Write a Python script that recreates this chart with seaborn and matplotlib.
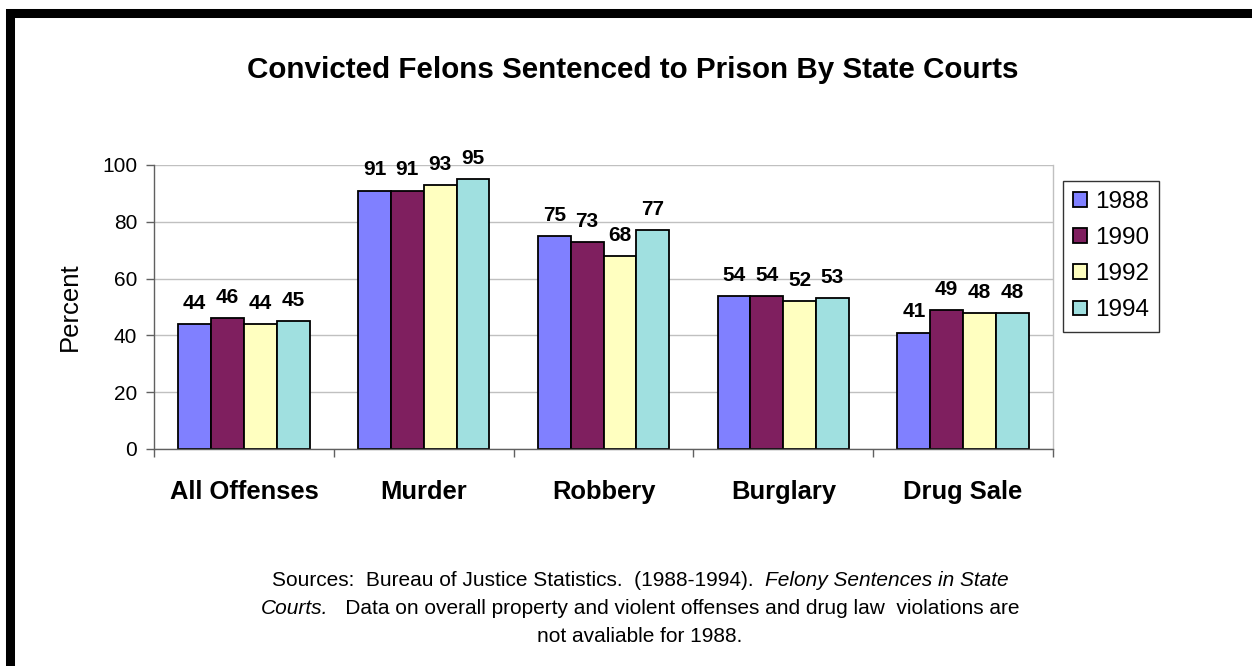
import matplotlib
matplotlib.use("Agg")
import matplotlib.pyplot as plt
import matplotlib.patches as mpatches
from matplotlib.ticker import FixedLocator
import seaborn as sns
import pandas as pd

categories = ["All Offenses", "Murder", "Robbery", "Burglary", "Drug Sale"]
years = ["1988", "1990", "1992", "1994"]
v1988 = [44, 91, 75, 54, 41]
v1990 = [46, 91, 73, 54, 49]
v1992 = [44, 93, 68, 52, 48]
v1994 = [45, 95, 77, 53, 48]
colors = ["#8080FF", "#7F1F5F", "#FFFFC0", "#A0E0E0"]

rows = []
for yr, vals in zip(years, [v1988, v1990, v1992, v1994]):
    for c, v in zip(categories, vals):
        rows.append({"Category": c, "Year": yr, "Percent": v})
df = pd.DataFrame(rows)

sns.set_theme(style="white")
plt.rcParams["font.family"] = ["Liberation Sans", "DejaVu Sans"]
plt.rcParams["text.color"] = "black"
plt.rcParams["axes.labelcolor"] = "black"
plt.rcParams["xtick.color"] = "black"
plt.rcParams["ytick.color"] = "black"

W, H = 1252, 666
fig = plt.figure(figsize=(W / 100, H / 100), dpi=100)
fig.patch.set_facecolor("white")
ax = fig.add_axes([154 / W, 1 - 449 / H, (1053 - 154) / W, (449 - 165) / H])

sns.barplot(data=df, x="Category", y="Percent", hue="Year", order=categories,
            hue_order=years, palette=colors, edgecolor="black", linewidth=1.3,
            width=0.73, saturation=1, ax=ax, legend=True, errorbar=None)

ax.set_ylim(0, 100)
ax.set_xlim(-0.5, 4.5)
ax.set_yticks([0, 20, 40, 60, 80, 100])
ax.yaxis.grid(True, color="#C0C0C0", linewidth=1)
ax.set_axisbelow(True)
ax.xaxis.set_minor_locator(FixedLocator([-0.5, 0.5, 1.5, 2.5, 3.5, 4.5]))
ax.tick_params(axis="x", which="major", length=0, pad=22, labelsize=18.4, labelcolor="black")
ax.tick_params(axis="x", which="minor", length=6, width=1, color="#606060", direction="out", bottom=True)
ax.tick_params(axis="y", length=6, width=1, color="#606060", direction="out", left=True,
               labelsize=15, pad=6, labelcolor="black")
for lab in ax.get_xticklabels():
    lab.set_fontweight("bold")
ax.set_xlabel("")
ax.set_ylabel("Percent", fontsize=18.5, labelpad=15, color="black")
for side in ["left", "bottom"]:
    ax.spines[side].set_color("#606060")
    ax.spines[side].set_linewidth(1)
ax.spines["right"].set_color("#C0C0C0")
ax.spines["right"].set_linewidth(1)
ax.spines["top"].set_visible(False)

for cont in ax.containers:
    ax.bar_label(cont, fmt="%d", padding=8, fontsize=15, fontweight="bold", color="black")

handles, labels = ax.get_legend_handles_labels()
leg = ax.legend(handles, labels, loc="upper left", bbox_to_anchor=(1063 / W, 1 - 181 / H),
                bbox_transform=fig.transFigure, frameon=True, fancybox=False,
                handlelength=0.55, handleheight=0.55, handletextpad=0.35,
                labelspacing=0.58, fontsize=17.5, borderpad=0.42, borderaxespad=0)
leg.get_frame().set_edgecolor("black")
leg.get_frame().set_linewidth(1)
for t in leg.get_texts():
    t.set_color("black")

fig.text(0.505, 1 - 70 / H, "Convicted Felons Sentenced to Prison By State Courts",
         ha="center", va="center", fontsize=21.3, fontweight="bold", color="black")

# footnote with mixed styles
fs = 15
fig.canvas.draw()
renderer = fig.canvas.get_renderer()

def place_line(parts, ycenter_px, xcenter_px=640):
    texts = []
    widths = []
    for s, style in parts:
        t = fig.text(0, 1 - ycenter_px / H, s, fontsize=fs, style=style, ha="left",
                     va="center", color="black")
        texts.append(t)
        widths.append(t.get_window_extent(renderer).width)
    total = sum(widths)
    x = xcenter_px - total / 2
    for t, w in zip(texts, widths):
        t.set_x(x / W)
        x += w

place_line([("Sources:  Bureau of Justice Statistics.  (1988-1994).  ", "normal"),
            ("Felony Sentences in State", "italic")], 580)
place_line([("Courts.", "italic"),
            ("   Data on overall property and violent offenses and drug law  violations are", "normal")], 609)
place_line([("not avaliable for 1988.", "normal")], 637)

border = mpatches.Rectangle((10 / W, -0.1), (1254 - 10) / W, 1.1 - 13 / H,
                            transform=fig.transFigure, fill=False, edgecolor="black",
                            linewidth=6.5, clip_on=False)
fig.patches.append(border)

fig.savefig("out.png", dpi=100)
